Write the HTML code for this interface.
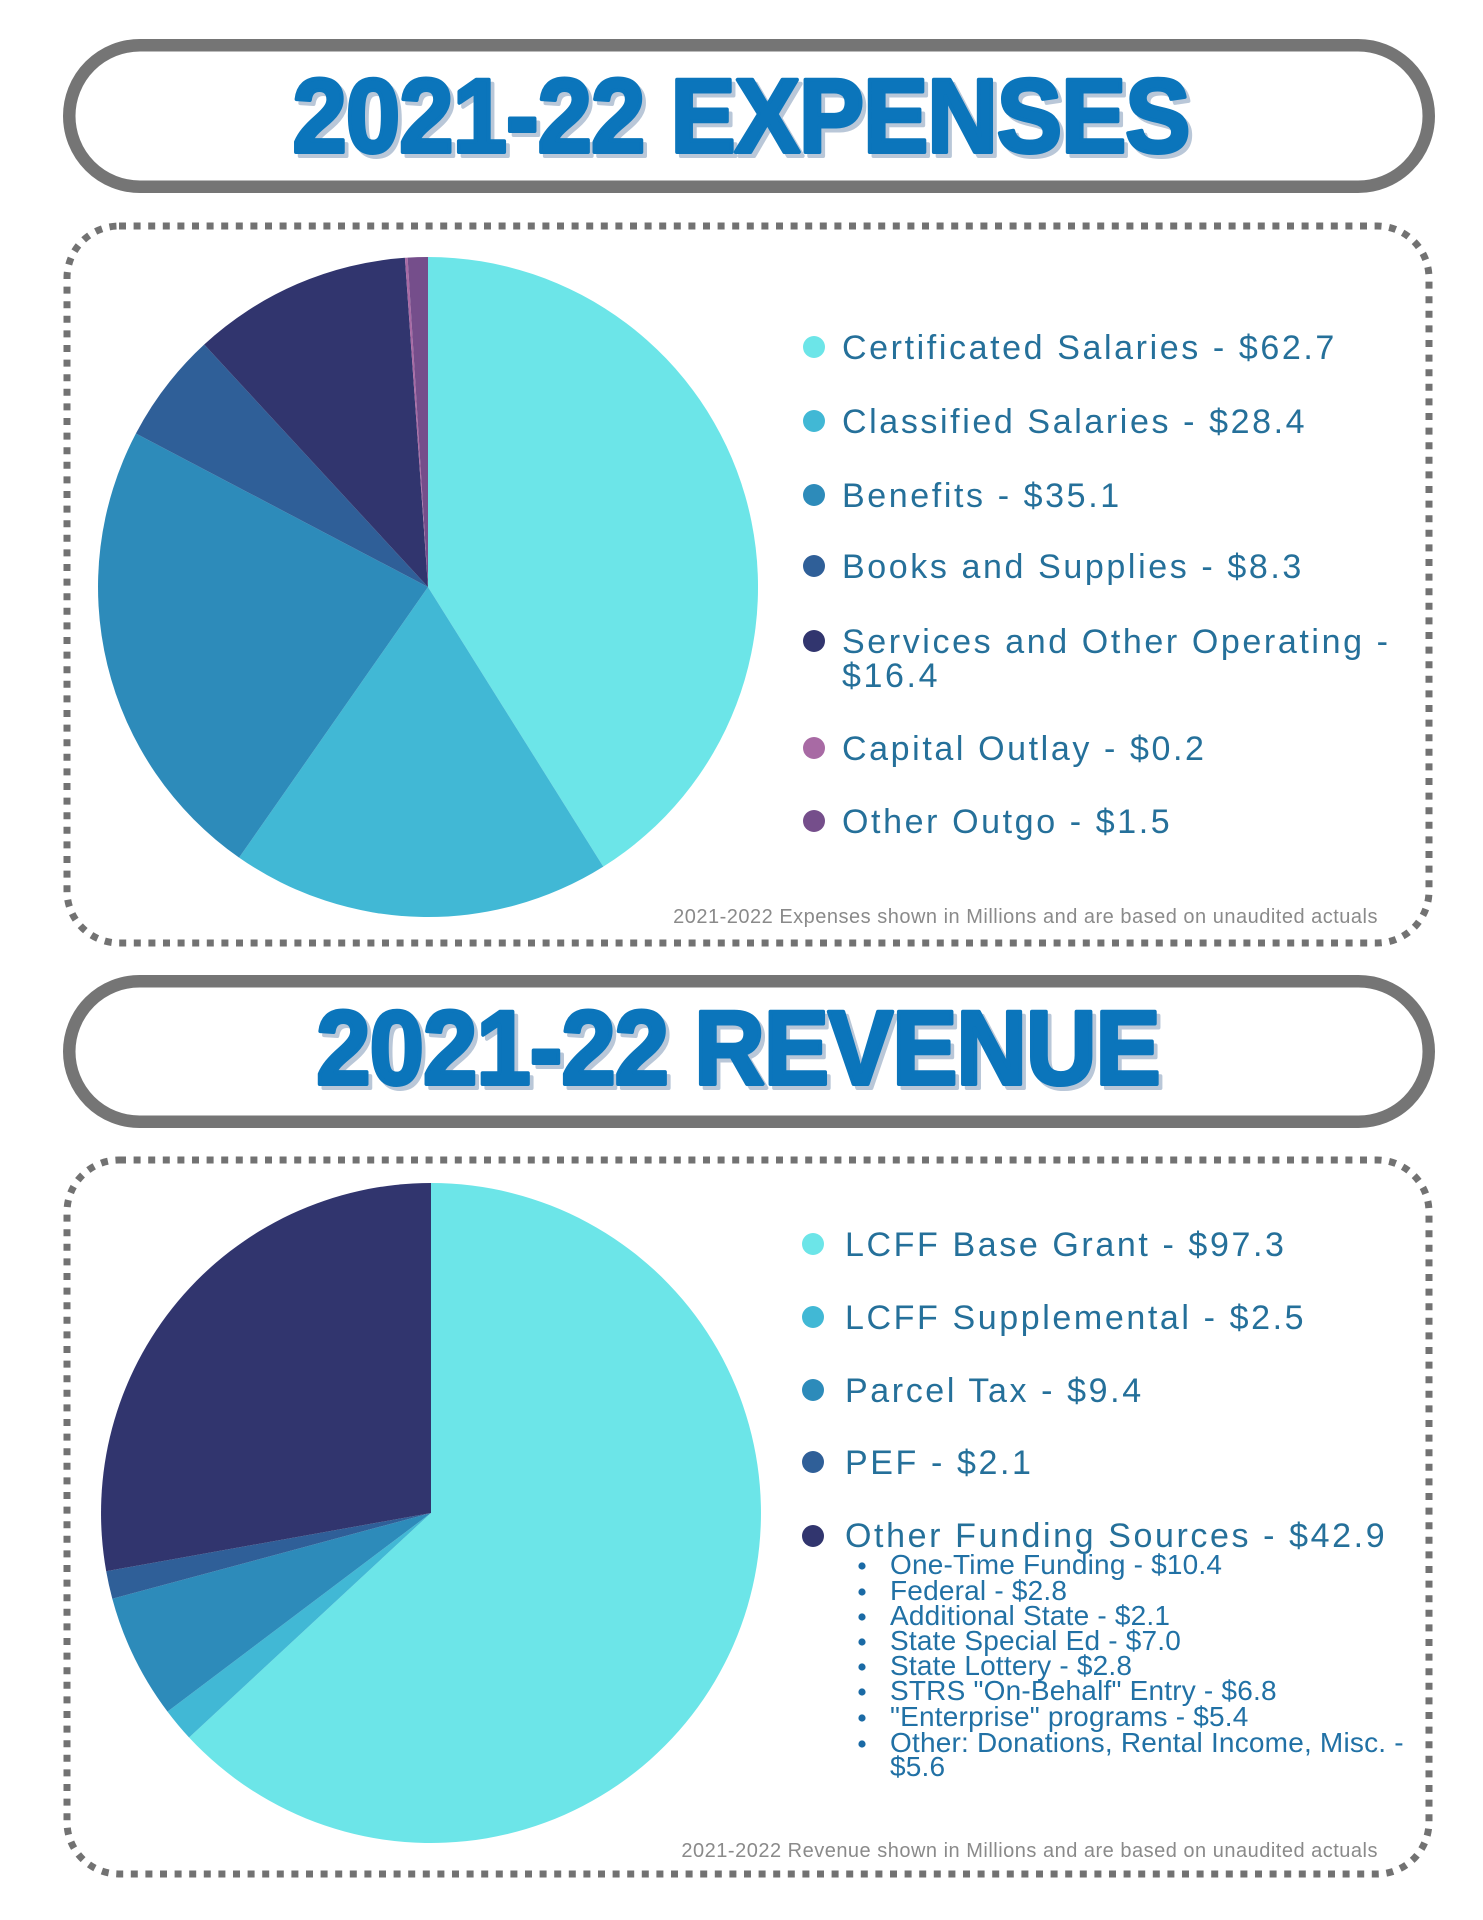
<!DOCTYPE html>
<html>
<head>
<meta charset="utf-8">
<style>
  html, body { margin: 0; padding: 0; background: #ffffff; }
  body { width: 1483px; height: 1920px; overflow: hidden; }
  svg { display: block; }
  .lg { font-family: "Liberation Sans", "DejaVu Sans", sans-serif; font-size: 34px; letter-spacing: 2.6px; fill: #25709a; }
  .sub { font-family: "Liberation Sans", "DejaVu Sans", sans-serif; font-size: 28px; letter-spacing: 0.2px; fill: #2171a5; }
  .fn { font-family: "Liberation Sans", "DejaVu Sans", sans-serif; font-size: 20px; letter-spacing: 0.5px; fill: #8a8a8a; }
  .ttl { font-family: "Liberation Sans", "DejaVu Sans", sans-serif; font-weight: bold; font-size: 105px; letter-spacing: -1px; stroke-linejoin: round; }
</style>
</head>
<body>
<svg width="1483" height="1920" viewBox="0 0 1483 1920" xmlns="http://www.w3.org/2000/svg">
  <rect x="0" y="0" width="1483" height="1920" fill="#ffffff"/>

  <!-- ===== EXPENSES header pill ===== -->
  <rect x="69.25" y="45.25" width="1359.5" height="141.5" rx="70.75" ry="70.75" fill="#ffffff" stroke="#757575" stroke-width="12.5"/>
  <g transform="translate(741,152) scale(0.93,1)">
    <text class="ttl" x="4" y="4" text-anchor="middle" fill="#b9c7d8" stroke="#b9c7d8" stroke-width="4">2021-22 EXPENSES</text>
    <text class="ttl" x="0" y="0" text-anchor="middle" fill="#0b75bb" stroke="#0b75bb" stroke-width="4">2021-22 EXPENSES</text>
  </g>

  <!-- Expenses dotted box -->
  <rect x="67" y="226" width="1362" height="717" rx="52" ry="52" fill="none" stroke="#727272" stroke-width="7" stroke-dasharray="7 7.6"/>

  <!-- Expenses pie: center (428,587) r=330 -->
  <path d="M428,587 L428,257 A330,330 0 0 1 603.3,866.6 Z" fill="#6ce5e8"/>
  <path d="M428,587 L603.3,866.6 A330,330 0 0 1 239.1,857.6 Z" fill="#41b8d5"/>
  <path d="M428,587 L239.1,857.6 A330,330 0 0 1 135.9,433.5 Z" fill="#2d8bba"/>
  <path d="M428,587 L135.9,433.5 A330,330 0 0 1 204.2,344.5 Z" fill="#2f5f98"/>
  <path d="M428,587 L204.2,344.5 A330,330 0 0 1 404.9,257.8 Z" fill="#31356e"/>
  <path d="M428,587 L404.9,257.8 A330,330 0 0 1 407.6,257.6 Z" fill="#a86aa4"/>
  <path d="M428,587 L407.6,257.6 A330,330 0 0 1 428,257 Z" fill="#754e8b"/>

  <!-- Expenses legend -->
  <circle cx="814" cy="347" r="11" fill="#6ce5e8"/>
  <text class="lg" x="842" y="359">Certificated Salaries - $62.7</text>
  <circle cx="814" cy="421" r="11" fill="#41b8d5"/>
  <text class="lg" x="842" y="433">Classified Salaries - $28.4</text>
  <circle cx="814" cy="495" r="11" fill="#2d8bba"/>
  <text class="lg" x="842" y="507">Benefits - $35.1</text>
  <circle cx="814" cy="566" r="11" fill="#2f5f98"/>
  <text class="lg" x="842" y="578">Books and Supplies - $8.3</text>
  <circle cx="814" cy="641" r="11" fill="#31356e"/>
  <text class="lg" x="842" y="653">Services and Other Operating -</text>
  <text class="lg" x="842" y="687">$16.4</text>
  <circle cx="814" cy="748" r="11" fill="#a86aa4"/>
  <text class="lg" x="842" y="760">Capital Outlay - $0.2</text>
  <circle cx="814" cy="821" r="11" fill="#754e8b"/>
  <text class="lg" x="842" y="833">Other Outgo - $1.5</text>

  <text class="fn" x="1378" y="923" text-anchor="end">2021-2022 Expenses shown in Millions and are based on unaudited actuals</text>

  <!-- ===== REVENUE header pill ===== -->
  <rect x="69.25" y="981.25" width="1359.5" height="140.5" rx="70.25" ry="70.25" fill="#ffffff" stroke="#757575" stroke-width="12.5"/>
  <g transform="translate(738,1084) scale(0.93,1)">
    <text class="ttl" x="4" y="4" text-anchor="middle" fill="#b9c7d8" stroke="#b9c7d8" stroke-width="4">2021-22 REVENUE</text>
    <text class="ttl" x="0" y="0" text-anchor="middle" fill="#0b75bb" stroke="#0b75bb" stroke-width="4">2021-22 REVENUE</text>
  </g>

  <!-- Revenue dotted box -->
  <rect x="67" y="1160" width="1362" height="714" rx="52" ry="52" fill="none" stroke="#727272" stroke-width="7" stroke-dasharray="7 7.6"/>

  <!-- Revenue pie: center (431,1513) r=330 -->
  <path d="M431,1513 L431,1183 A330,330 0 1 1 189.1,1737.5 Z" fill="#6ce5e8"/>
  <path d="M431,1513 L189.1,1737.5 A330,330 0 0 1 167.5,1711.6 Z" fill="#41b8d5"/>
  <path d="M431,1513 L167.5,1711.6 A330,330 0 0 1 112.3,1598.7 Z" fill="#2d8bba"/>
  <path d="M431,1513 L112.3,1598.7 A330,330 0 0 1 106.2,1571.2 Z" fill="#2f5f98"/>
  <path d="M431,1513 L106.2,1571.2 A330,330 0 0 1 431,1183 Z" fill="#31356e"/>

  <!-- Revenue legend -->
  <circle cx="813" cy="1244" r="11" fill="#6ce5e8"/>
  <text class="lg" x="845" y="1256">LCFF Base Grant - $97.3</text>
  <circle cx="813" cy="1317" r="11" fill="#41b8d5"/>
  <text class="lg" x="845" y="1329">LCFF Supplemental - $2.5</text>
  <circle cx="813" cy="1390" r="11" fill="#2d8bba"/>
  <text class="lg" x="845" y="1402">Parcel Tax - $9.4</text>
  <circle cx="813" cy="1462" r="11" fill="#2f5f98"/>
  <text class="lg" x="845" y="1474">PEF - $2.1</text>
  <circle cx="813" cy="1536" r="11" fill="#31356e"/>
  <text class="lg" x="845" y="1547">Other Funding Sources - $42.9</text>

  <!-- Sub bullets -->
  <g fill="#1a6aa5">
    <circle cx="862" cy="1566" r="3.6"/>
    <circle cx="862" cy="1592" r="3.6"/>
    <circle cx="862" cy="1617" r="3.6"/>
    <circle cx="862" cy="1642" r="3.6"/>
    <circle cx="862" cy="1667" r="3.6"/>
    <circle cx="862" cy="1692" r="3.6"/>
    <circle cx="862" cy="1718" r="3.6"/>
    <circle cx="862" cy="1744" r="3.6"/>
  </g>
  <text class="sub" x="890" y="1574">One-Time Funding - $10.4</text>
  <text class="sub" x="890" y="1600">Federal - $2.8</text>
  <text class="sub" x="890" y="1625">Additional State - $2.1</text>
  <text class="sub" x="890" y="1650">State Special Ed - $7.0</text>
  <text class="sub" x="890" y="1675">State Lottery - $2.8</text>
  <text class="sub" x="890" y="1700">STRS "On-Behalf" Entry - $6.8</text>
  <text class="sub" x="890" y="1726">"Enterprise" programs - $5.4</text>
  <text class="sub" x="890" y="1752">Other: Donations, Rental Income, Misc. -</text>
  <text class="sub" x="890" y="1776">$5.6</text>

  <text class="fn" x="1378" y="1857" text-anchor="end">2021-2022 Revenue shown in Millions and are based on unaudited actuals</text>
</svg>
</body>
</html>
